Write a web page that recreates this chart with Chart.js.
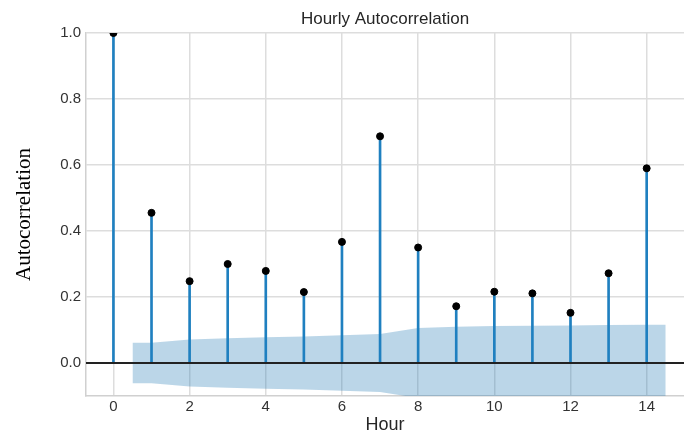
<!DOCTYPE html>
<html>
<head>
<meta charset="utf-8">
<script src="https://cdn.jsdelivr.net/npm/chart.js@4.4.1/dist/chart.umd.min.js"></script>
<style>
  body { margin: 0; background: #ffffff; }
  #wrap { width: 684px; height: 434px; }
</style>
</head>
<body>
<div id="wrap"><canvas id="canvas" width="684" height="434"></canvas></div>
<script>
// Dữ liệu tự tương quan theo giờ
const lags = [0, 1, 2, 3, 4, 5, 6, 7, 8, 9, 10, 11, 12, 13, 14]
const acfValues = [1.0, 0.455, 0.248, 0.300, 0.279, 0.215, 0.367, 0.687, 0.350, 0.172, 0.216, 0.211, 0.152, 0.272, 0.590]

// Khoảng tin cậy (vùng tô xanh), bắt đầu từ 0.5 và kết thúc ở 14.5
const bandLags = [0.5, 1, 2, 3, 4, 5, 6, 7, 8, 9, 10, 11, 12, 13, 14, 14.5]
const bandUpper = [0.061, 0.061, 0.071, 0.075, 0.078, 0.080, 0.084, 0.088, 0.106, 0.110, 0.112, 0.113, 0.114, 0.115, 0.116, 0.116]
const bandLower = bandUpper.map(v => -v)

const stemColor = '#1f80c0'
const gridColor = '#dddddd'

// Đường ngang tại y = 0
const zeroLine = {
  id: 'zeroLine',
  afterDatasetsDraw(chart) {
    const { ctx, chartArea, scales } = chart
    const y = scales.y.getPixelForValue(0)
    ctx.save()
    ctx.strokeStyle = '#222222'
    ctx.lineWidth = 2
    ctx.beginPath()
    ctx.moveTo(chartArea.left, y)
    ctx.lineTo(chartArea.right, y)
    ctx.stroke()
    ctx.restore()
  }
}

const data = {
  datasets: [
    {
      type: 'scatter',
      label: 'points',
      data: lags.map((l, i) => ({ x: l, y: acfValues[i] })),
      backgroundColor: '#000000',
      borderColor: '#000000',
      pointRadius: 3.5,
      pointHoverRadius: 3.5,
      order: 0,
    },
    {
      type: 'bar',
      label: 'stems',
      data: lags.map((l, i) => ({ x: l, y: acfValues[i] })),
      backgroundColor: stemColor,
      barThickness: 2,
      order: 1,
    },
    {
      type: 'line',
      label: 'lower',
      data: bandLags.map((l, i) => ({ x: l, y: bandLower[i] })),
      borderWidth: 0,
      pointRadius: 0,
      fill: false,
      tension: 0,
      order: 3,
    },
    {
      type: 'line',
      label: 'upper',
      data: bandLags.map((l, i) => ({ x: l, y: bandUpper[i] })),
      borderWidth: 0,
      pointRadius: 0,
      fill: '-1',
      backgroundColor: 'rgba(31, 119, 180, 0.3)',
      tension: 0,
      order: 2,
    },
  ],
}

const config = {
  data: data,
  options: {
    responsive: false,
    animation: false,
    layout: { padding: 0, autoPadding: false },
    plugins: {
      legend: { display: false },
      tooltip: { enabled: false },
      title: {
        display: true,
        fullSize: false,
        text: 'Hourly Autocorrelation',
        color: '#262626',
        font: { family: 'Liberation Sans', size: 17, weight: 'normal', lineHeight: 1.2 },
        padding: { top: 9, bottom: 3.6 },
      },
    },
    scales: {
      x: {
        type: 'linear',
        offset: false,
        min: -0.72,
        max: 14.98,
        afterFit: s => { s.height = 38 },
        ticks: {
          stepSize: 2,
          includeBounds: false,
          padding: 2,
          color: '#333333',
          font: { family: 'Liberation Sans', size: 15 },
        },
        grid: { color: gridColor, lineWidth: 1.5, drawTicks: false, offset: false },
        border: { color: '#d0d0d0', width: 1.5 },
        title: {
          display: true,
          text: 'Hour',
          color: '#262626',
          font: { family: 'Liberation Sans', size: 18, lineHeight: 1 },
          padding: { top: 0, bottom: 0 },
        },
      },
      y: {
        min: -0.1,
        max: 1.0,
        afterFit: s => { s.width = 86 },
        ticks: {
          stepSize: 0.2,
          includeBounds: false,
          padding: 5,
          color: '#333333',
          font: { family: 'Liberation Sans', size: 15 },
          callback: v => v.toFixed(1),
        },
        grid: { color: gridColor, lineWidth: 1.5, drawTicks: false },
        border: { color: '#d0d0d0', width: 1.5 },
        title: {
          display: true,
          text: 'Autocorrelation',
          color: '#000000',
          font: { family: 'Liberation Serif', size: 21, lineHeight: 1.2 },
          padding: { top: 12, bottom: 0 },
        },
      },
    },
  },
  plugins: [zeroLine],
}

const canvas = document.getElementById('canvas')
const chart = new Chart(canvas, config)
</script>
</body>
</html>
